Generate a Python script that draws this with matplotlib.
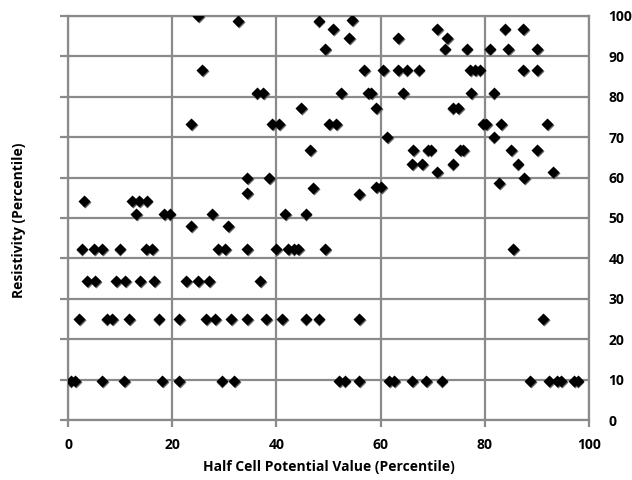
import matplotlib
matplotlib.use("Agg")
import matplotlib.pyplot as plt

# Half cell potential (x) vs resistivity (y), both percentiles
half_cell = [
    24.9, 32.6, 48.1, 50.9, 49.3, 25.8, 36.2, 37.4, 52.4, 44.7,
    23.7, 39.2, 40.5, 50.1, 51.4, 46.5, 34.4, 38.6, 47.1, 34.4,
    3.1, 12.3, 13.7, 15.1, 13.0, 18.5, 19.5, 27.7, 41.7, 45.6,
    54.5, 54.0, 63.4, 70.8, 72.7, 72.3, 76.5, 80.9, 84.5, 90.1,
    83.8, 87.4,
    56.9, 60.5, 63.4, 65.0, 67.3, 77.2, 78.1, 79.0, 87.4, 90.1,
    57.6, 58.2, 64.3, 77.4, 81.7, 59.1, 73.8, 74.9,
    79.7, 80.2, 83.2, 91.9, 61.3, 81.7,
    66.2, 69.0, 69.6, 75.3, 75.8, 85.1, 90.1,
    66.1, 67.9, 73.8, 86.3, 70.8, 93.1, 87.5, 82.8, 59.2, 60.1, 55.8,
    23.7, 30.7,
    2.6, 5.0, 6.5, 9.9, 15.0, 16.1, 28.8, 30.1, 34.4, 39.9,
    42.2, 43.3, 44.1, 49.3, 85.5,
    3.7, 5.2, 9.2, 10.9, 13.8, 16.6, 22.7, 24.9, 27.1, 36.8,
    2.1, 7.4, 8.4, 11.8, 17.4, 21.3, 26.5, 28.2, 31.3, 34.4,
    38.0, 41.1, 45.6, 48.1, 55.8, 91.2,
    0.5, 1.3, 6.6, 10.8, 18.0, 21.3, 29.5, 31.9, 52.0, 53.1,
    55.8, 61.6, 62.6, 66.1, 68.7, 71.7, 88.7, 92.3, 93.8, 94.6,
    97.2, 97.8,
]
resistivity = [
    100, 98.8, 98.8, 96.7, 91.8, 86.6, 81.0, 81.0, 81.0, 77.3,
    73.3, 73.3, 73.3, 73.3, 73.3, 66.8, 59.8, 59.8, 57.5, 56.1,
    54.2, 54.2, 54.2, 54.2, 50.9, 50.9, 50.9, 50.9, 50.9, 50.9,
    99.0, 94.5, 94.5, 96.7, 94.5, 91.8, 91.8, 91.8, 91.8, 91.8,
    96.7, 96.7,
    86.6, 86.6, 86.6, 86.6, 86.6, 86.6, 86.6, 86.6, 86.6, 86.6,
    81.0, 81.0, 81.0, 81.0, 81.0, 77.3, 77.3, 77.3,
    73.3, 73.3, 73.3, 73.3, 70.1, 70.1,
    66.8, 66.8, 66.8, 66.8, 66.8, 66.8, 66.8,
    63.3, 63.3, 63.3, 63.3, 61.5, 61.5, 59.8, 58.7, 57.6, 57.6, 55.9,
    48.1, 48.1,
    42.4, 42.4, 42.4, 42.4, 42.4, 42.4, 42.4, 42.4, 42.4, 42.4,
    42.4, 42.4, 42.4, 42.4, 42.4,
    34.3, 34.3, 34.3, 34.3, 34.3, 34.3, 34.3, 34.3, 34.3, 34.3,
    24.9, 24.9, 24.9, 24.9, 24.9, 24.9, 24.9, 24.9, 24.9, 24.9,
    24.9, 24.9, 24.9, 24.9, 24.9, 24.9,
    9.65, 9.65, 9.65, 9.65, 9.65, 9.65, 9.65, 9.65, 9.65, 9.65,
    9.65, 9.65, 9.65, 9.65, 9.65, 9.65, 9.65, 9.65, 9.65, 9.65,
    9.65, 9.65,
]

x_ticks = [0, 20, 40, 60, 80, 100]
y_ticks = [0, 10, 20, 30, 40, 50, 60, 70, 80, 90, 100]

plt.rcParams["font.family"] = ["Open Sans", "DejaVu Sans"]
grid_col = "#8a8a8a"

fig = plt.figure(figsize=(6.32, 4.8), dpi=100)
ax = fig.add_axes([0.1076, 0.125, 0.8244, 0.8417])

# faint shadow then marker, like the Excel look
ax.plot([v + 0.15 for v in half_cell], [v - 0.25 for v in resistivity], "D",
        ms=6.6, color="#666666", mec="none", zorder=3)
ax.plot(half_cell, resistivity, "D", ms=6.4, color="black", mec="none", zorder=4)

ax.set_xlim(0, 100)
ax.set_ylim(0, 100)
ax.set_xticks(x_ticks)
ax.set_yticks(y_ticks)
ax.grid(True, color=grid_col, lw=1.6)
ax.set_axisbelow(True)
for s in ax.spines.values():
    s.set_color(grid_col)
    s.set_linewidth(1.6)

ax.tick_params(axis="x", direction="out", length=5, width=1.6, color=grid_col,
               labelsize=10, pad=8)
ax.tick_params(axis="y", left=True, right=False, labelleft=False,
               labelright=True, direction="out", length=6, width=1.6,
               color=grid_col, labelsize=10, pad=8)
for lab in ax.get_xticklabels() + ax.get_yticklabels():
    lab.set_fontweight("bold")

ax.set_xlabel("Half Cell Potential Value (Percentile)", fontsize=10,
              fontweight="bold", labelpad=6)
fig.text(0.03, 0.54, "Resistivity (Percentile)", rotation=90, fontsize=10,
         fontweight="bold", ha="center", va="center")

fig.savefig("out.png", dpi=100)
